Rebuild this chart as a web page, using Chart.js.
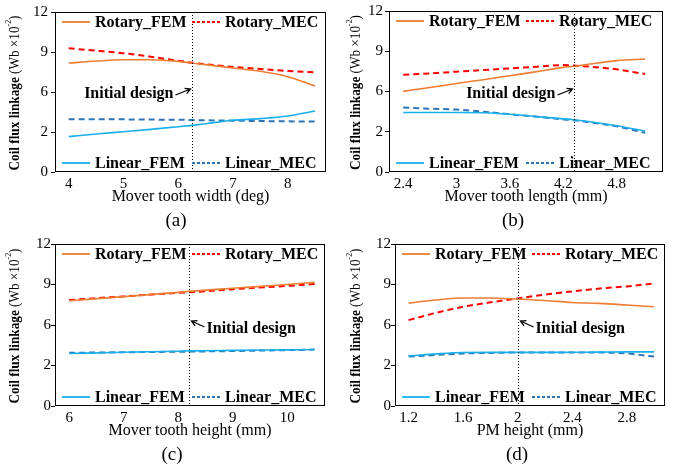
<!DOCTYPE html>
<html>
<head>
<meta charset="utf-8">
<script src="https://cdn.jsdelivr.net/npm/chart.js@4.4.1/dist/chart.umd.min.js"></script>
<style>
  body { margin: 0; background: #fff; width: 681px; height: 468px; position: relative; overflow: hidden; }
  canvas { position: absolute; }
</style>
</head>
<body>
<canvas id="chartA" width="340" height="234" style="left:0;top:0"></canvas>
<canvas id="chartB" width="341" height="234" style="left:340px;top:0"></canvas>
<canvas id="chartC" width="340" height="234" style="left:0;top:234px"></canvas>
<canvas id="chartD" width="341" height="234" style="left:340px;top:234px"></canvas>
<script>
// y axis is shared: 0..12, the "3" tick is printed as "2" in the original
const yTicks = [0, 3, 6, 9, 12];
const yTickLabels = ["0", "2", "6", "9", "12"];
const seriesNames = ["Rotary_FEM", "Rotary_MEC", "Linear_FEM", "Linear_MEC"];

// (a) mover tooth width (deg)
const xA = [4, 4.5, 5, 5.5, 6, 6.25, 6.5, 7, 7.5, 8, 8.5];
const rotFemA = [8.17, 8.32, 8.42, 8.42, 8.3, 8.17, 8.05, 7.8, 7.55, 7.15, 6.45];
const rotMecA = [9.28, 9.1, 8.91, 8.65, 8.34, 8.2, 8.08, 7.88, 7.72, 7.58, 7.48];
const linFemA = [2.65, 2.85, 3.02, 3.2, 3.39, 3.5, 3.62, 3.88, 4.0, 4.2, 4.58];
const linMecA = [3.96, 3.96, 3.95, 3.93, 3.92, 3.9, 3.88, 3.85, 3.82, 3.8, 3.79];
const xTicksA = [4, 5, 6, 7, 8];

// (b) mover tooth length (mm)
const xB = [2.4, 2.7, 3, 3.3, 3.6, 3.9, 4.2, 4.32, 4.5, 4.8, 5.12];
const rotFemB = [6.01, 6.3, 6.6, 6.88, 7.18, 7.48, 7.8, 7.88, 8.05, 8.3, 8.42];
const rotMecB = [7.25, 7.35, 7.48, 7.6, 7.72, 7.85, 7.97, 7.93, 7.85, 7.65, 7.3];
const linFemB = [4.43, 4.43, 4.43, 4.42, 4.3, 4.13, 3.96, 3.89, 3.75, 3.45, 3.05];
const linMecB = [4.8, 4.72, 4.65, 4.5, 4.3, 4.12, 3.92, 3.85, 3.7, 3.4, 2.92];
const xTicksB = [2.4, 3, 3.6, 4.2, 4.8];

// (c) mover tooth height (mm)
const xC = [6, 7, 8, 8.2, 9, 10, 10.5];
const rotFemC = [7.8, 8.1, 8.42, 8.49, 8.72, 9.0, 9.16];
const rotMecC = [7.85, 8.12, 8.38, 8.42, 8.65, 8.9, 9.03];
const linFemC = [3.89, 3.98, 4.06, 4.08, 4.12, 4.16, 4.18];
const linMecC = [3.94, 3.98, 4.02, 4.03, 4.07, 4.14, 4.18];
const xTicksC = [6, 7, 8, 9, 10];

// (d) PM height (mm)
const xD = [1.2, 1.4, 1.6, 1.8, 2.0, 2.2, 2.4, 2.6, 2.8, 3.0];
const rotFemD = [7.62, 7.85, 8.0, 8.0, 7.92, 7.82, 7.67, 7.6, 7.48, 7.35];
const rotMecD = [6.36, 6.9, 7.35, 7.68, 7.97, 8.25, 8.49, 8.7, 8.86, 9.08];
const linFemD = [3.71, 3.86, 3.96, 3.97, 3.97, 3.97, 3.98, 3.99, 4.01, 4.01];
const linMecD = [3.66, 3.78, 3.89, 3.93, 3.96, 3.96, 3.96, 3.96, 3.89, 3.66];
const xTicksD = [1.2, 1.6, 2, 2.4, 2.8];

const FONT = "'Liberation Serif', 'Times New Roman', serif";
Chart.defaults.font.family = FONT;
Chart.defaults.color = "#000";

// Cores
const cRotFem = "#ED7D31";
const cRotMec = "#FF0000";
const cLinFem = "#1AAFEA";
const cLinMec = "#2E75B6";

function pts(xs, ys) {
  return xs.map((x, i) => ({ x: x, y: ys[i] }));
}

function lineSet(label, xs, ys, color, dashed) {
  return {
    label: label,
    data: pts(xs, ys),
    borderColor: color,
    borderWidth: dashed ? 2 : 1.6,
    borderDash: dashed ? [6, 4] : [],
    pointRadius: 0,
    fill: false,
    tension: 0.4,
    cubicInterpolationMode: "monotone",
  };
}

function drawLegendItem(ctx, x, y, ds) {
  ctx.save();
  ctx.strokeStyle = ds.borderColor;
  ctx.lineWidth = 1.8;
  ctx.setLineDash(ds.borderDash.length ? [3, 2] : []);
  ctx.beginPath();
  ctx.moveTo(x, y);
  ctx.lineTo(x + 28, y);
  ctx.stroke();
  ctx.setLineDash([]);
  ctx.fillStyle = "#000";
  ctx.font = "bold 16px " + FONT;
  ctx.textBaseline = "middle";
  ctx.fillText(ds.label, x + 33, y + 1);
  ctx.restore();
}

function decoPlugin(p) {
  return {
    id: "deco" + p.caption,
    afterDatasetsDraw(chart) {
      const { ctx, chartArea: a, scales } = chart;
      const ds = chart.data.datasets;
      ctx.save();

      // moldura
      ctx.strokeStyle = "#000";
      ctx.lineWidth = 1;
      ctx.strokeRect(a.left + 0.5, a.top + 0.5, a.width - 1, a.height - 1);

      // linha pontilhada do projeto inicial
      const lx = Math.round(scales.x.getPixelForValue(p.design)) + 0.5;
      ctx.setLineDash([1, 2]);
      ctx.beginPath();
      ctx.moveTo(lx, a.top);
      ctx.lineTo(lx, a.bottom);
      ctx.stroke();
      ctx.setLineDash([]);

      // legenda dentro do gráfico
      drawLegendItem(ctx, a.left + 7, a.top + 10, ds[0]);
      drawLegendItem(ctx, a.left + 137, a.top + 10, ds[1]);
      drawLegendItem(ctx, a.left + 7, a.bottom - 9, ds[2]);
      drawLegendItem(ctx, a.left + 137, a.bottom - 9, ds[3]);

      // "Initial design" com seta
      ctx.font = "bold 16px " + FONT;
      ctx.fillStyle = "#000";
      ctx.textBaseline = "middle";
      ctx.lineWidth = 1.3;
      let tail, tip;
      if (p.side === "left") {
        ctx.textAlign = "right";
        ctx.fillText("Initial design", lx - 19, 94);
        tail = [lx - 17, 95];
        tip = [lx - 2, 89];
      } else {
        ctx.textAlign = "left";
        ctx.fillText("Initial design", lx + 17, 95);
        tail = [lx + 15, 93];
        tip = [lx + 2, 87];
      }
      const ang = Math.atan2(tip[1] - tail[1], tip[0] - tail[0]);
      ctx.beginPath();
      ctx.moveTo(tail[0], tail[1]);
      ctx.lineTo(tip[0], tip[1]);
      ctx.moveTo(tip[0] - 6 * Math.cos(ang - 0.5), tip[1] - 6 * Math.sin(ang - 0.5));
      ctx.lineTo(tip[0], tip[1]);
      ctx.lineTo(tip[0] - 6 * Math.cos(ang + 0.5), tip[1] - 6 * Math.sin(ang + 0.5));
      ctx.stroke();

      // título do eixo y (negrito + normal, comprimido)
      const t1 = "Coil flux linkage ";
      const t2 = "(Wb \u00d710";
      const t3 = "-2";
      const t4 = ")";
      ctx.textAlign = "left";
      ctx.font = "bold 15px " + FONT;
      const w1 = ctx.measureText(t1).width;
      ctx.font = "15px " + FONT;
      const w2 = ctx.measureText(t2).width;
      const w4 = ctx.measureText(t4).width;
      ctx.font = "9px " + FONT;
      const w3 = ctx.measureText(t3).width;
      const total = w1 + w2 + w3 + w4;
      ctx.save();
      ctx.translate(p.yTitleX, (a.top + a.bottom) / 2 + 1);
      ctx.rotate(-Math.PI / 2);
      ctx.scale(155 / total, 1);
      let x = -total / 2;
      ctx.font = "bold 15px " + FONT;
      ctx.fillText(t1, x, 0);
      x += w1;
      ctx.font = "15px " + FONT;
      ctx.fillText(t2, x, 0);
      x += w2;
      ctx.font = "9px " + FONT;
      ctx.fillText(t3, x, -6);
      x += w3;
      ctx.font = "15px " + FONT;
      ctx.fillText(t4, x, 0);
      ctx.restore();

      // legenda do painel
      ctx.textAlign = "center";
      ctx.font = "19px " + FONT;
      ctx.fillText("(" + p.caption + ")", p.capX, 221);

      ctx.restore();
    },
  };
}

function makePanel(p) {
  const ctx = document.getElementById(p.id).getContext("2d");
  return new Chart(ctx, {
    type: "line",
    data: {
      datasets: [
        lineSet(seriesNames[0], p.xs, p.rotFem, cRotFem, false),
        lineSet(seriesNames[1], p.xs, p.rotMec, cRotMec, true),
        lineSet(seriesNames[2], p.xs, p.linFem, cLinFem, false),
        lineSet(seriesNames[3], p.xs, p.linMec, cLinMec, true),
      ],
    },
    options: {
      responsive: false,
      animation: false,
      layout: {
        padding: { left: 0, top: 10, right: p.padRight, bottom: 29 },
      },
      plugins: {
        legend: { display: false },
        tooltip: { enabled: false },
      },
      scales: {
        x: {
          type: "linear",
          min: p.xMin,
          max: p.xMax,
          border: { display: false },
          grid: { display: false, drawTicks: false },
          afterBuildTicks: (scale) => {
            scale.ticks = p.xTicks.map((v) => ({ value: v }));
          },
          afterFit: (scale) => {
            scale.height = 33;
          },
          ticks: {
            padding: 3,
            maxRotation: 0,
            font: { size: 15 },
            callback: (v) => String(v),
          },
          title: {
            display: true,
            text: p.xTitle,
            font: { size: 16, lineHeight: 1 },
            padding: 0,
          },
        },
        y: {
          min: 0,
          max: 12,
          border: { display: false },
          grid: {
            drawOnChartArea: false,
            drawTicks: true,
            tickLength: 4,
            color: "#000",
          },
          afterBuildTicks: (scale) => {
            scale.ticks = yTicks.map((v) => ({ value: v }));
          },
          afterFit: (scale) => {
            scale.width = p.yAxisW;
          },
          ticks: {
            padding: p.yTickPad,
            font: { size: 15 },
            callback: (v, i) => yTickLabels[i],
          },
        },
      },
    },
    plugins: [decoPlugin(p)],
  });
}

makePanel({
  id: "chartA", caption: "a", xTitle: "Mover tooth width (deg)",
  xs: xA, rotFem: rotFemA, rotMec: rotMecA, linFem: linFemA, linMec: linMecA,
  xTicks: xTicksA, xMin: 3.75, xMax: 8.7, design: 6.25, side: "left",
  yAxisW: 55, padRight: 14, yTickPad: 3, yTitleX: 15, capX: 176,
});
makePanel({
  id: "chartB", caption: "b", xTitle: "Mover tooth length (mm)",
  xs: xB, rotFem: rotFemB, rotMec: rotMecB, linFem: linFemB, linMec: linMecB,
  xTicks: xTicksB, xMin: 2.24, xMax: 5.32, design: 4.32, side: "left",
  yAxisW: 49, padRight: 18, yTickPad: 2, yTitleX: 16, capX: 173,
});
makePanel({
  id: "chartC", caption: "c", xTitle: "Mover tooth height (mm)",
  xs: xC, rotFem: rotFemC, rotMec: rotMecC, linFem: linFemC, linMec: linMecC,
  xTicks: xTicksC, xMin: 5.74, xMax: 10.69, design: 8.2, side: "right",
  yAxisW: 55, padRight: 15, yTickPad: 0, yTitleX: 15, capX: 172,
});
makePanel({
  id: "chartD", caption: "d", xTitle: "PM height (mm)",
  xs: xD, rotFem: rotFemD, rotMec: rotMecD, linFem: linFemD, linMec: linMecD,
  xTicks: xTicksD, xMin: 1.1, xMax: 3.08, design: 2.0, side: "right",
  yAxisW: 55, padRight: 16, yTickPad: 0, yTitleX: 16, capX: 177,
});
</script>
</body>
</html>
